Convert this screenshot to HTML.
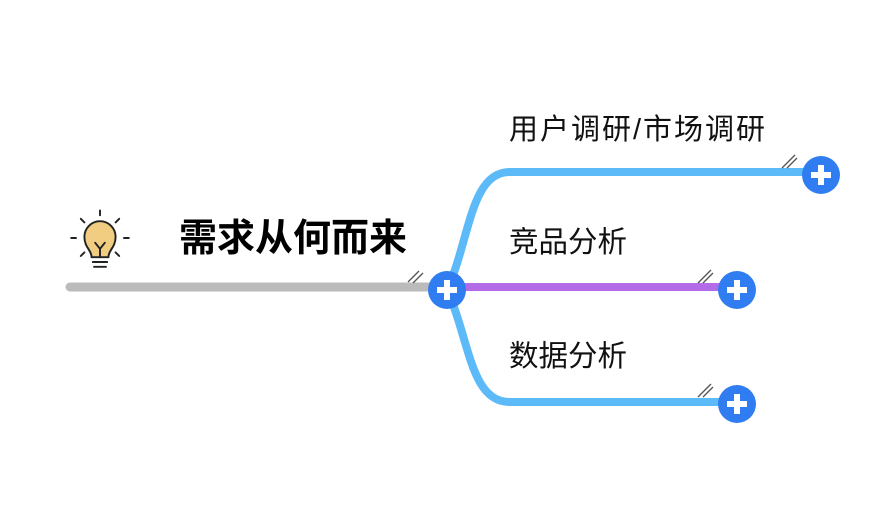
<!DOCTYPE html>
<html><head><meta charset="utf-8"><style>
body{margin:0;background:#fff;width:892px;height:510px;overflow:hidden}
text{font-family:"Liberation Sans","Noto Sans CJK SC",sans-serif}
</style></head><body>
<svg width="892" height="510" viewBox="0 0 892 510">
<g fill="none" stroke-linecap="round">
<line x1="70" y1="287" x2="440" y2="287" stroke="#bbbbbb" stroke-width="9"/>
<path d="M447 290 C470 240 470 172 510 172 L810 172" stroke="#5bbaf7" stroke-width="8"/>
<path d="M447 290 C470 340 470 402 510 402 L725 402" stroke="#5bbaf7" stroke-width="8"/>
<line x1="455" y1="287" x2="725" y2="287" stroke="#b36be8" stroke-width="8"/>
</g>
<g stroke="#555" stroke-width="1.3">
<line x1="408" y1="282" x2="419" y2="271"/><line x1="413" y1="283" x2="423" y2="273"/>
<line x1="782" y1="168" x2="795" y2="155"/><line x1="787" y1="168" x2="797" y2="158"/>
<line x1="698" y1="283" x2="711" y2="270"/><line x1="703" y1="283" x2="713" y2="273"/>
<line x1="698" y1="397" x2="711" y2="384"/><line x1="703" y1="397" x2="713" y2="387"/>
</g>
<g>
<circle cx="447" cy="290" r="19" fill="#2f7df0"/>
<circle cx="821" cy="175" r="19" fill="#2f7df0"/>
<circle cx="737" cy="290" r="19" fill="#2f7df0"/>
<circle cx="737" cy="404" r="19" fill="#2f7df0"/>
<g fill="#fff">
<rect x="437" y="287" width="20" height="6"/><rect x="444" y="280" width="6" height="20"/>
<rect x="811" y="172" width="20" height="6"/><rect x="818" y="165" width="6" height="20"/>
<rect x="727" y="287" width="20" height="6"/><rect x="734" y="280" width="6" height="20"/>
<rect x="727" y="401" width="20" height="6"/><rect x="734" y="394" width="6" height="20"/>
</g>
</g>
<g transform="translate(100 238) scale(1.2) translate(-100 -238)" stroke="#222" stroke-width="1.6" stroke-linecap="round">
<line x1="100" y1="215" x2="100" y2="219"/>
<line x1="84" y1="222" x2="87" y2="225"/><line x1="116" y1="222" x2="113" y2="225"/>
<line x1="76" y1="238" x2="80" y2="238"/><line x1="120" y1="238" x2="124" y2="238"/>
<line x1="84" y1="253" x2="87" y2="250"/><line x1="116" y1="253" x2="113" y2="250"/>
<path d="M93 254 C93 248 87 246 87 237 A13 13 0 0 1 113 237 C113 246 107 248 107 254 Z" fill="#f0cd80"/>
<path d="M96 242 L100 247 L104 242 M100 247 L100 254" fill="none"/>
<line x1="94" y1="258" x2="106" y2="258"/><line x1="95" y1="262" x2="105" y2="262"/>
</g>
<text x="179" y="251" font-size="38" font-weight="bold" fill="#000">需求从何而来</text>
<text x="509" y="139" font-size="29" fill="#111" textLength="256">用户调研/市场调研</text>
<text x="509" y="252" font-size="29.5" fill="#111">竞品分析</text>
<text x="509" y="366" font-size="29.5" fill="#111">数据分析</text>
</svg>
</body></html>
